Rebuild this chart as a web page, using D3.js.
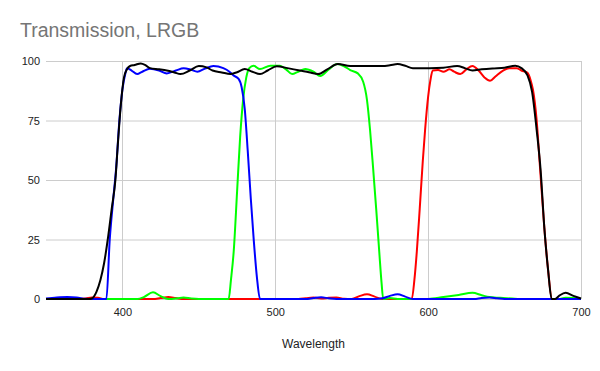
<!DOCTYPE html>
<html>
    <head>
        <script src="https://d3js.org/d3.v7.min.js"></script>
        <style>
            body { margin: 0; background: #fff; }
            text { font-family: "Liberation Sans", Arial, sans-serif; }
        </style>
    </head>
    <body>
        <div id="vizBody"></div>
    </body>
    <script>
        //values (wavelength in nm, transmission in %)
        let lumX = [350, 370, 378, 380, 383, 385.6, 388, 390.4, 393, 395.4, 397, 399, 401, 403, 405, 408, 412, 415, 418, 424, 429, 434, 438, 444, 450, 455, 459, 465, 470.6, 475, 480, 485, 490, 495, 501, 508, 516, 522, 528, 534, 541, 549, 560, 570, 575, 580, 585, 590, 601, 610, 619, 624, 629, 635, 642, 650, 657, 661, 665, 668, 671, 673.6, 676, 678.5, 680.8, 683, 686, 690, 695, 700];
        let lumY = [0, 0, 0, 0.2, 3, 8, 15, 25, 38, 50, 65, 82, 93, 96.5, 97.9, 98.3, 99, 98.3, 97, 96.5, 96, 95.2, 94.5, 96, 97.9, 97.3, 96, 95.2, 94.5, 95.3, 96.6, 95.5, 94.5, 96, 97.8, 97, 96, 95.3, 94.5, 96.5, 98.7, 97.9, 97.9, 97.9, 98.2, 98.7, 98, 97, 97, 97.2, 97.9, 97, 96, 96.5, 96.9, 97.2, 98, 97, 94, 87, 71, 54, 30, 12, 0, 0, 1.5, 2.6, 1.3, 0.2];

        let redX = [350, 372, 376, 380, 384, 388, 420, 425, 430, 435, 440, 515, 520, 525, 530, 535, 540, 545, 550, 555, 560, 565, 570, 589.3, 591, 592.6, 594.5, 596.5, 598, 600, 601.5, 603, 606.5, 610, 614, 617, 621, 625, 629, 633, 637, 640.5, 644, 649, 653, 658, 661, 665, 667, 668.6, 671, 673, 676, 678.5, 681, 700];
        let redY = [0, 0, 0.2, 0.6, 0.5, 0, 0, 0.4, 0.8, 0.4, 0, 0, 0.3, 0.6, 0.2, 0.5, 0.6, 0.1, 0, 1.2, 2, 1, 0, 0, 8, 20, 38, 58, 71, 85, 92, 96, 96.2, 95.5, 96.5, 95.5, 94.5, 96.5, 97.9, 96, 93, 91.7, 93.5, 96, 97, 97, 96, 95, 92, 87.8, 75, 57, 30, 12, 0, 0];

        let greenX = [350, 410, 414, 420, 425, 430, 436, 440, 445, 450, 469.5, 471, 472.8, 475, 477, 479, 481, 483, 485.7, 490, 496.7, 503, 507, 511, 515, 519.6, 525, 529.4, 535, 540.5, 545, 549, 554, 557.5, 560, 562, 564, 566, 568, 569.5, 570.6, 575, 580, 600, 610, 620, 629, 635, 640, 647, 655, 660, 685, 690, 695, 700];
        let greenY = [0, 0, 0.8, 2.8, 1.2, 0, 0.3, 0.6, 0.2, 0, 0, 8, 20, 45, 68, 84, 93, 97, 98, 96.6, 98, 98, 96.5, 94.5, 95.5, 96.6, 95.5, 93.7, 96.5, 98.7, 97.8, 96.2, 94.8, 91.3, 83.6, 71, 55, 38, 20, 7, 0, 0.4, 0, 0, 0.8, 1.7, 2.6, 1.6, 0.8, 0.5, 0.2, 0, 0, 0.5, 0.4, 0];

        let blueX = [350, 357, 364, 370, 376, 380, 389.5, 391.7, 394, 396, 398, 400, 402, 403, 406, 409.6, 413, 418, 424, 429, 435, 440, 445, 449, 454, 459.5, 466, 470, 472.5, 476, 478, 480, 482, 484, 486, 488, 490, 520, 525, 530, 535, 540, 565, 570, 575, 580, 585, 590, 630, 635, 640, 645, 650, 700];
        let blueY = [0.2, 0.6, 0.8, 0.6, 0.1, 0, 0, 25, 42, 56, 75, 88, 95, 97, 96, 94.5, 95.5, 96.7, 96, 94.8, 96, 97, 96.3, 95.5, 96.8, 97.9, 97, 95.5, 94, 92.5, 89, 80, 62, 42, 24, 9, 0, 0, 0.4, 0.7, 0.3, 0, 0, 0.3, 1.3, 2, 1, 0, 0, 0.4, 0.6, 0.3, 0, 0];

        let xTicks = [400, 500, 600, 700];
        let yTicks = [0, 25, 50, 75, 100];

        let series = [
            {name: "Red", color: "#ff0000", xs: redX, ys: redY},
            {name: "Green", color: "#00ff00", xs: greenX, ys: greenY},
            {name: "Blue", color: "#0000ff", xs: blueX, ys: blueY},
            {name: "L", color: "#000000", xs: lumX, ys: lumY}
        ];

        //chart space inside the 600x371 viz space
        let margin = {top: 61, right: 19, bottom: 72, left: 46},
            maxWidth = 600,
            maxHeight = 371,
            width = maxWidth - margin.left - margin.right,
            height = maxHeight - margin.top - margin.bottom;

        let svg = d3.select("#vizBody")
                    .append("svg")
                        .attr("width", maxWidth)
                        .attr("height", maxHeight);

        svg.append("text")
           .attr("x", 20)
           .attr("y", 37)
           .style("font-size", "19.5px")
           .style("fill", "#757575")
           .text("Transmission, LRGB");

        let vizSpace = svg.append("g")
                          .attr("transform", "translate(" + margin.left + "," + margin.top + ")");

        let xScale = d3.scaleLinear()
                       .domain([350, 700])
                       .range([0, width]);

        let yScale = d3.scaleLinear()
                       .domain([0, 100])
                       .range([height, 0]);

        //gridlines
        vizSpace.append("g")
                .selectAll("line")
                .data(yTicks)
                .join("line")
                    .attr("x1", 0)
                    .attr("x2", width)
                    .attr("y1", d => yScale(d) + 0.5)
                    .attr("y2", d => yScale(d) + 0.5)
                    .style("stroke", "#cccccc");

        vizSpace.append("g")
                .selectAll("line")
                .data(xTicks)
                .join("line")
                    .attr("x1", d => Math.round(xScale(d)) + 0.5)
                    .attr("x2", d => Math.round(xScale(d)) + 0.5)
                    .attr("y1", 0)
                    .attr("y2", height)
                    .style("stroke", "#cccccc");

        //axes, labels only
        let xAxis = vizSpace.append("g")
                            .attr("transform", "translate(0," + height + ")")
                            .call(d3.axisBottom(xScale).tickValues(xTicks).tickSize(0).tickPadding(9));

        let yAxis = vizSpace.append("g")
                            .call(d3.axisLeft(yScale).tickValues(yTicks).tickSize(0).tickPadding(6));

        [xAxis, yAxis].forEach(a => {
            a.select(".domain").remove();
            a.selectAll("text")
             .style("font-family", "'Liberation Sans', Arial, sans-serif")
             .style("font-size", "11px")
             .style("fill", "#222222");
        });

        svg.append("text")
           .attr("x", margin.left + width / 2)
           .attr("y", 348)
           .attr("text-anchor", "middle")
           .style("font-size", "12px")
           .style("fill", "#222222")
           .text("Wavelength");

        //the four transmission curves
        let line = d3.line()
                     .x(d => xScale(d[0]))
                     .y(d => yScale(d[1]))
                     .curve(d3.curveMonotoneX);

        vizSpace.selectAll(".curve")
                .data(series)
                .join("path")
                    .attr("class", "curve")
                    .attr("d", s => line(s.xs.map((x, i) => [x, s.ys[i]])))
                    .style("fill", "none")
                    .style("stroke", s => s.color)
                    .style("stroke-width", 2)
                    .style("stroke-linejoin", "round");
    </script>
</html>
